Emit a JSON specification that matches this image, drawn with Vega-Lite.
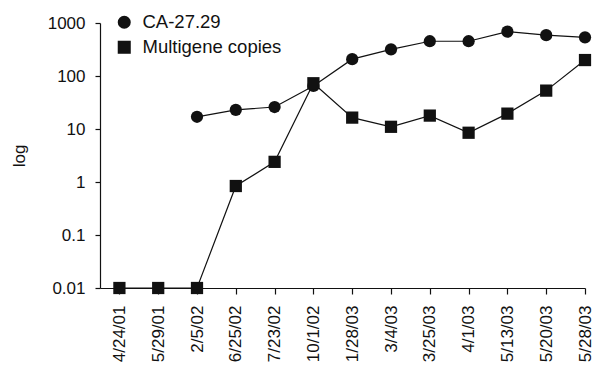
{
  "$schema": "https://vega.github.io/schema/vega-lite/v6.json",
  "width": 485,
  "height": 265,
  "autosize": "none",
  "padding": {"left": 100, "top": 23, "right": 9, "bottom": 78},
  "background": "white",
  "config": {
    "view": {"stroke": null},
    "font": "Liberation Sans",
    "axis": {
      "domainColor": "#111",
      "tickColor": "#111",
      "labelColor": "#111",
      "titleColor": "#111",
      "labelFontSize": 17,
      "titleFontSize": 17,
      "titleFontWeight": "normal",
      "grid": false,
      "domainWidth": 1.2,
      "tickWidth": 1.2
    },
    "legend": {
      "labelFontSize": 18.5,
      "labelColor": "#111",
      "symbolSize": 170,
      "symbolFillColor": "#111",
      "symbolStrokeColor": "#111",
      "symbolStrokeWidth": 0
    }
  },
  "data": {
    "values": [
      {"date": "2/5/02", "series": "CA-27.29", "value": 17},
      {"date": "6/25/02", "series": "CA-27.29", "value": 23},
      {"date": "7/23/02", "series": "CA-27.29", "value": 26},
      {"date": "10/1/02", "series": "CA-27.29", "value": 65},
      {"date": "1/28/03", "series": "CA-27.29", "value": 208},
      {"date": "3/4/03", "series": "CA-27.29", "value": 318},
      {"date": "3/25/03", "series": "CA-27.29", "value": 453},
      {"date": "4/1/03", "series": "CA-27.29", "value": 453},
      {"date": "5/13/03", "series": "CA-27.29", "value": 687},
      {"date": "5/20/03", "series": "CA-27.29", "value": 589},
      {"date": "5/28/03", "series": "CA-27.29", "value": 537},
      {"date": "4/24/01", "series": "Multigene copies", "value": 0.01},
      {"date": "5/29/01", "series": "Multigene copies", "value": 0.01},
      {"date": "2/5/02", "series": "Multigene copies", "value": 0.01},
      {"date": "6/25/02", "series": "Multigene copies", "value": 0.84},
      {"date": "7/23/02", "series": "Multigene copies", "value": 2.4},
      {"date": "10/1/02", "series": "Multigene copies", "value": 73},
      {"date": "1/28/03", "series": "Multigene copies", "value": 16.4},
      {"date": "3/4/03", "series": "Multigene copies", "value": 11},
      {"date": "3/25/03", "series": "Multigene copies", "value": 17.9},
      {"date": "4/1/03", "series": "Multigene copies", "value": 8.5},
      {"date": "5/13/03", "series": "Multigene copies", "value": 19.5},
      {"date": "5/20/03", "series": "Multigene copies", "value": 53},
      {"date": "5/28/03", "series": "Multigene copies", "value": 200}
    ]
  },
  "encoding": {
    "x": {
      "field": "date",
      "type": "ordinal",
      "sort": ["4/24/01", "5/29/01", "2/5/02", "6/25/02", "7/23/02", "10/1/02", "1/28/03", "3/4/03", "3/25/03", "4/1/03", "5/13/03", "5/20/03", "5/28/03"],
      "scale": {"type": "point", "padding": 0.25, "align": 1},
      "axis": {"title": null, "labelAngle": -90, "tickSize": 6, "labelPadding": 11}
    },
    "y": {
      "field": "value",
      "type": "quantitative",
      "scale": {"type": "log", "domain": [0.01, 1000]},
      "axis": {"title": "log", "values": [0.01, 0.1, 1, 10, 100, 1000], "format": "~g", "tickSize": 5, "labelPadding": 10, "titlePadding": 19}
    }
  },
  "layer": [
    {
      "mark": {"type": "line", "color": "#111", "strokeWidth": 1.2},
      "encoding": {"detail": {"field": "series", "type": "nominal"}}
    },
    {
      "mark": {"type": "point", "filled": true, "color": "#111", "opacity": 1, "size": 150},
      "encoding": {
        "shape": {
          "field": "series",
          "type": "nominal",
          "scale": {"range": ["circle", "square"]},
          "legend": {"title": null, "orient": "none", "legendX": 15, "legendY": -10, "labelOffset": 9, "rowPadding": 6, "padding": 0}
        }
      }
    }
  ]
}
